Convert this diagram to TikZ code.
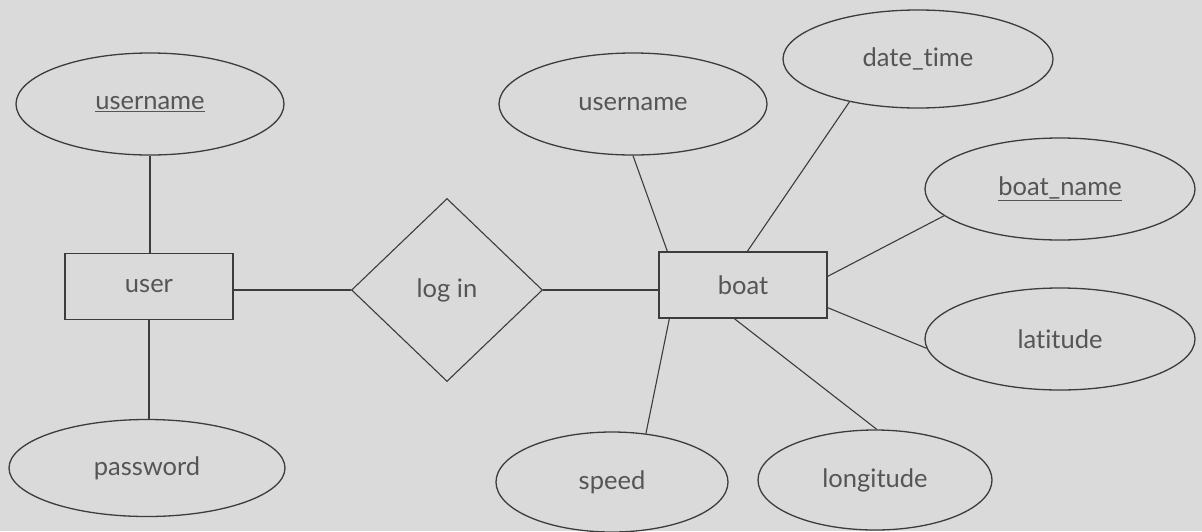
\documentclass[tikz,border=0pt]{standalone}
\usepackage{fontspec}
\setmainfont{Lato}[Ligatures={NoCommon}]
\usetikzlibrary{shapes.geometric}
\definecolor{bg}{HTML}{DADADA}
\definecolor{ink}{HTML}{3C3C3C}
\definecolor{txt}{HTML}{555555}
\begin{document}
\begin{tikzpicture}[x=1pt,y=-1pt,
  attr/.style={ellipse,draw=ink,line width=1.3pt,inner sep=0pt,font=\fontsize{25.5}{28}\selectfont,text=txt},
  ent/.style={rectangle,draw=ink,line width=1.3pt,inner sep=0pt,minimum width=168pt,minimum height=66pt,font=\fontsize{25.5}{28}\selectfont,text=txt},
  rel/.style={diamond,draw=ink,line width=1.1pt,inner sep=0pt,minimum width=191pt,minimum height=183pt,font=\fontsize{25.5}{28}\selectfont,text=txt},
  link/.style={draw=ink,line width=1.1pt},
  thick link/.style={draw=ink,line width=1.8pt}]
\fill[bg] (0,0) rectangle (1202,531);
\useasboundingbox (0,0) rectangle (1202,531);
% left side
\node[attr,minimum width=268pt,minimum height=102pt] (u1) at (150,104) {\underline{username}};
\node[ent] (user) at (149,286.5) {user};
\node[attr,minimum width=276pt,minimum height=97pt] (pw) at (147,468) {password};
\node[rel] (login) at (447,290) {log in};
% right side
\node[ent] (boat) at (743,285) {boat};
\node[attr,minimum width=268pt,minimum height=102pt] (u2) at (633,104) {username};
\node[attr,minimum width=270pt,minimum height=98pt] (dt) at (918,59) {date\_time};
\node[attr,minimum width=270pt,minimum height=102pt] (bn) at (1060,189) {\underline{boat\_name}};
\node[attr,minimum width=270pt,minimum height=102pt] (lat) at (1060,339) {latitude};
\node[attr,minimum width=232pt,minimum height=100pt] (sp) at (612,482) {speed};
\node[attr,minimum width=234pt,minimum height=100pt] (lon) at (875,480) {longitude};
% connectors
\draw[link] (u1.south) -- (u1.south |- user.north);
\draw[link] (pw.north -| user.south) -- (user.south);
\draw[thick link] (login.west -| user.east) -- (login.west);
\draw[thick link] (login.east) -- (login.east -| boat.west);
\draw[link] (u2.south) -- ([xshift=9pt]boat.north west);
\draw[link] (dt.212) -- ([xshift=89pt]boat.north west);
\draw[link] (bn.193.5) -- ([yshift=-25pt]boat.north east);
\draw[link] (lat.184) -- ([yshift=11pt]boat.south east);
\draw[link] (sp.55) -- ([xshift=11pt]boat.south west);
\draw[link] (lon.88) -- ([xshift=76pt]boat.south west);
\end{tikzpicture}
\end{document}
